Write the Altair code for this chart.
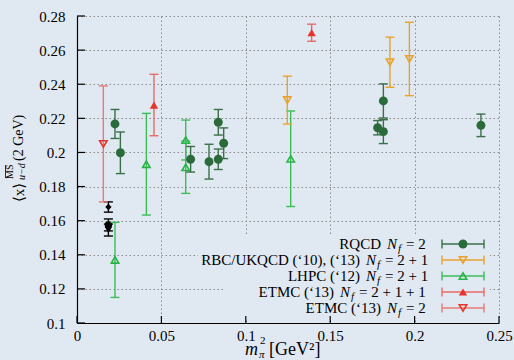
import altair as alt
import pandas as pd

# ---- measurements: pion mass squared [GeV^2], <x>_{u-d}, symmetric error ----
rqcd_x = [0.0225, 0.0257, 0.0673, 0.0782, 0.0837, 0.0837, 0.0869, 0.1781, 0.1815, 0.1815, 0.2393]
rqcd_y = [0.2167, 0.1998, 0.1960, 0.1946, 0.1960, 0.2177, 0.2054, 0.2145, 0.2302, 0.2122, 0.2159]
rqcd_e = [0.0085, 0.0122, 0.0075, 0.0102, 0.0060, 0.0075, 0.0090, 0.0042, 0.0100, 0.0070, 0.0066]

rbc_x = [0.1246, 0.1854, 0.1969]
rbc_y = [0.2307, 0.2529, 0.2548]
rbc_e = [0.0140, 0.0147, 0.0215]

lhpc_x = [0.0225, 0.0411, 0.0644, 0.0644, 0.1266]
lhpc_y = [0.1370, 0.1931, 0.2073, 0.1913, 0.1963]
lhpc_e = [0.0220, 0.0298, 0.0117, 0.0153, 0.0280]

etmc4_x = [0.0456, 0.1390]
etmc4_y = [0.2278, 0.2702]
etmc4_e = [0.0180, 0.0050]

etmc2_x = [0.0156]
etmc2_y = [0.2050]
etmc2_e = [0.0340]

# physical-point results (no key entry)
phys_x = [0.0186, 0.0186, 0.0186]
phys_y = [0.1680, 0.1575, 0.1545]
phys_e = [0.0030, 0.0035, 0.0035]
phys_shape = ["diamond", "circle", "triangle-down"]

x_ticks = [0, 0.05, 0.1, 0.15, 0.2, 0.25]
y_ticks = [0.1, 0.12, 0.14, 0.16, 0.18, 0.2, 0.22, 0.24, 0.26, 0.28]

legend_prefix = ["RQCD", "RBC/UKQCD (\u201810), (\u201813)", "LHPC (\u201812)",
                 "ETMC (\u201813)", "ETMC (\u201813)"]
legend_suffix = ["= 2", "= 2 + 1", "= 2 + 1", "= 2 + 1 + 1", "= 2"]

# ---- styling ----
SERIF = "'Liberation Serif', 'DejaVu Serif', 'Noto Serif', serif"
BG = "#e0e9f2"
W, H = 422, 307
GRID = "#8a8a8a"

xs = alt.Scale(domain=[0, 0.25], nice=False, zero=False)
ys = alt.Scale(domain=[0.1, 0.28], nice=False, zero=False)
x_axis = alt.Axis(values=x_ticks, format="~g", title=None, grid=True, gridColor=GRID,
                  gridDash=[1.5, 2.5], gridWidth=1, ticks=False, tickSize=0,
                  domainColor="black", domainWidth=1.2, labelFont=SERIF, labelFontSize=15,
                  labelColor="black", labelPadding=5, labelFlush=False)
y_axis = alt.Axis(values=y_ticks, format="~g", title=None, grid=True, gridColor=GRID,
                  gridDash=[1.5, 2.5], gridWidth=1, ticks=False, tickSize=0,
                  domainColor="black", domainWidth=1.2, labelFont=SERIF, labelFontSize=15,
                  labelColor="black", labelPadding=12, labelFlush=False)


def X(field):
    return alt.X(field, type="quantitative", scale=xs, axis=x_axis)


def Y(field):
    return alt.Y(field, type="quantitative", scale=ys, axis=y_axis)


one = pd.DataFrame({"k": [0]})


def text(txt, px, py, size=15, italic=False, align="left", angle=0, baseline="alphabetic"):
    return alt.Chart(one).mark_text(
        text=txt, font=SERIF, fontSize=size, fontStyle="italic" if italic else "normal",
        align=align, baseline=baseline, angle=angle, color="black"
    ).encode(x=alt.value(px), y=alt.value(py))


series = [
    # name, xs, ys, errs, bar colour, marker colour, shape, filled, size
    ("RQCD", rqcd_x, rqcd_y, rqcd_e, "#3a7048", "#2b6a3b", "circle", True, 80),
    ("RBC", rbc_x, rbc_y, rbc_e, "#e9a22c", "#e9a22c", "triangle-down", False, 55),
    ("LHPC", lhpc_x, lhpc_y, lhpc_e, "#3cbd58", "#27b446", "triangle-up", False, 55),
    ("ETMC4", etmc4_x, etmc4_y, etmc4_e, "#e86a66", "#e8332a", "triangle-up", True, 70),
    ("ETMC2", etmc2_x, etmc2_y, etmc2_e, "#e97a76", "#e8332a", "triangle-down", False, 55),
]

layers = []

# opaque key box hiding the grid behind it
layers.append(alt.Chart(one).mark_rect(color=BG).encode(
    x=alt.value(121), x2=alt.value(413), y=alt.value(220), y2=alt.value(254)))
layers.append(alt.Chart(one).mark_rect(color=BG).encode(
    x=alt.value(146), x2=alt.value(413), y=alt.value(254), y2=alt.value(304)))

# inward ticks on the left and bottom axes
layers.append(alt.Chart(pd.DataFrame({"v": x_ticks})).mark_rule(color="black", strokeWidth=1.2).encode(
    x=X("v"), y=alt.value(H), y2=alt.value(H - 7)))
layers.append(alt.Chart(pd.DataFrame({"v": y_ticks})).mark_rule(color="black", strokeWidth=1.2).encode(
    y=Y("v"), x=alt.value(0), x2=alt.value(8)))


def errorbars(df, bar_color):
    bars = alt.Chart(df).mark_rule(color=bar_color, strokeWidth=1.4).encode(
        x=X("x"), y=Y("lo"), y2="hi")
    cap_lo = alt.Chart(df).mark_rule(color=bar_color, strokeWidth=1.4, xOffset=-4.5, x2Offset=4.5).encode(
        x=X("x"), x2="x", y=Y("lo"))
    cap_hi = alt.Chart(df).mark_rule(color=bar_color, strokeWidth=1.4, xOffset=-4.5, x2Offset=4.5).encode(
        x=X("x"), x2="x", y=Y("hi"))
    return [bars, cap_lo, cap_hi]


# physical-point cluster in black
phys = pd.DataFrame({"x": phys_x, "y": phys_y, "shape": phys_shape})
phys["lo"] = phys["y"] - pd.Series(phys_e)
phys["hi"] = phys["y"] + pd.Series(phys_e)
layers += errorbars(phys, "black")
for shp in ["diamond", "circle", "triangle-down"]:
    sub = phys[phys["shape"] == shp]
    layers.append(alt.Chart(sub).mark_point(shape=shp, filled=True, color="black", opacity=1,
                                             size=40 if shp == "diamond" else 55).encode(x=X("x"), y=Y("y")))

for name, sx, sy, se, bar_c, mk_c, shp, filled, size in reversed(series):
    df = pd.DataFrame({"x": sx, "y": sy, "e": se})
    df["lo"] = df["y"] - df["e"]
    df["hi"] = df["y"] + df["e"]
    layers += errorbars(df, bar_c)
    layers.append(alt.Chart(df).mark_point(
        shape=shp, filled=filled, color=mk_c, opacity=1, size=size, strokeWidth=1.6
    ).encode(x=X("x"), y=Y("y")))

# key
row_y = [228, 244, 260, 276, 292]
n_x = [310, 289, 289, 263, 310]
for i, (name, sx, sy, se, bar_c, mk_c, shp, filled, size) in enumerate(series):
    ry = row_y[i]
    layers.append(alt.Chart(one).mark_rule(color=bar_c, strokeWidth=1.4).encode(
        x=alt.value(365), x2=alt.value(407), y=alt.value(ry)))
    for cx in (365, 407):
        layers.append(alt.Chart(one).mark_rule(color=bar_c, strokeWidth=1.4).encode(
            x=alt.value(cx), y=alt.value(ry - 4.5), y2=alt.value(ry + 4.5)))
    layers.append(alt.Chart(one).mark_point(
        shape=shp, filled=filled, color=mk_c, opacity=1, size=size, strokeWidth=1.6
    ).encode(x=alt.value(386), y=alt.value(ry)))
    layers.append(text(legend_prefix[i], n_x[i] - 6, ry + 5, align="right"))
    layers.append(text("N", n_x[i], ry + 5, italic=True))
    layers.append(text("f", n_x[i] + 11, ry + 8, size=11, italic=True))
    layers.append(text(legend_suffix[i], n_x[i] + 19, ry + 5))

# x-axis title: m_pi^2 [GeV^2]
layers.append(text("m", 245 - 77, 355 - 16, size=18, italic=True))
layers.append(text("2", 260 - 77, 344 - 16, size=11))
layers.append(text("\u03c0", 259 - 77, 358 - 16, size=11, italic=True))
layers.append(text("[GeV\u00b2]", 269 - 77, 355 - 16, size=18))

# y-axis title: <x>^{MS-bar}_{u-d}(2 GeV), rotated
layers.append(text("\u27e8x\u27e9", 24 - 77, 202 - 16, size=15, angle=270))
layers.append(text("MS", 13 - 77, 179 - 16, size=10, angle=270))
layers.append(alt.Chart(one).mark_rule(color="black", strokeWidth=0.8).encode(
    x=alt.value(5.5 - 77), y=alt.value(178 - 16), y2=alt.value(165 - 16)))
layers.append(text("u\u2212d", 25 - 77, 180 - 16, size=10, italic=True, angle=270))
layers.append(text("(2 GeV)", 23 - 77, 161 - 16, size=14, angle=270))

chart = alt.layer(*layers).properties(
    width=W, height=H,
    background=BG,
    padding={"left": 77, "top": 16, "right": 15, "bottom": 37},
    autosize=alt.AutoSizeParams(type="none"),
).configure_view(stroke=None)

chart.save("out.html", embed_options={"renderer": "svg", "actions": False})
